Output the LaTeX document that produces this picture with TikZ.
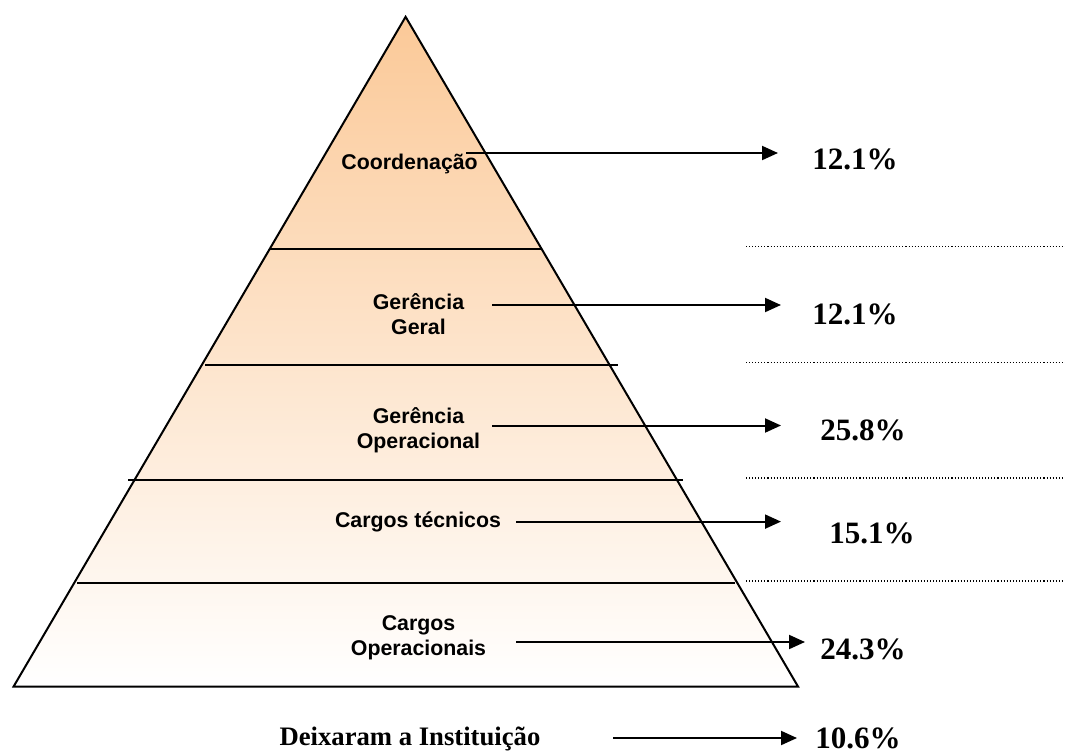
\documentclass[tikz,border=0pt]{standalone}
\usepackage{fontspec}
\setmainfont{Liberation Serif}
\newfontfamily\labelfont{Liberation Sans}
\usetikzlibrary{arrows.meta}
\definecolor{peach}{RGB}{251,201,152}
\begin{document}
\begin{tikzpicture}[x=0.75pt,y=-0.75pt,
  level/.style={font=\labelfont\bfseries\fontsize{16}{18.75}\selectfont, align=center, inner sep=0pt},
  pct/.style={font=\bfseries\fontsize{23.3}{26}\selectfont, anchor=base west, inner sep=0pt},
  outline/.style={line width=1.5pt, line join=miter},
  divider/.style={line width=1.7pt},
  guide/.style={line width=0.8pt, dash pattern=on 0.8pt off 1.5pt},
  pointer/.style={line width=1.5pt, -{Triangle[length=12pt,width=10.5pt]}}]
\useasboundingbox (0,0) rectangle (1065,754);

% pyramid with vertical gradient
\coordinate (apex) at (405.6,16.8);
\coordinate (bl) at (13.6,686.5);
\coordinate (br) at (798,686.5);
\shade[top color=peach, bottom color=white] (apex) -- (br) -- (bl) -- cycle;
\draw[outline] (apex) -- (br) -- (bl) -- cycle;

% level dividers
\draw[divider] (270,249) -- (541,249);
\draw[divider] (205,365) -- (618,365);
\draw[divider] (128,480) -- (683,480);
\draw[divider] (77,583) -- (735,583);

% dotted guides on the right
\foreach \yy in {246.6,362.5,478,581}
  \draw[guide] (746,\yy) -- (1065,\yy);

% level labels
\node[level] (coord) at (409.6,163.5) {Coordenação};
\node[level] (gger) at (418.5,314.4) {Gerência\\Geral};
\node[level] (gop) at (418.5,430) {Gerência\\Operacional};
\node[level] (tec) at (418,522) {Cargos técnicos};
\node[level] (ope) at (418.5,638) {Cargos\\Operacionais};
\node[font=\bfseries\fontsize{20}{24}\selectfont, inner sep=0pt] (saida) at (410,739) {Deixaram a Instituição};

% percentages
\node[pct] (p1) at (812,169) {12.1\%};
\node[pct] (p2) at (812,324.5) {12.1\%};
\node[pct] (p3) at (820,440) {25.8\%};
\node[pct] (p4) at (829,543) {15.1\%};
\node[pct] (p5) at (820,659) {24.3\%};
\node[pct] (p6) at (815,748) {10.6\%};

% arrow start and tip points
\coordinate (s1) at (466,153);   \coordinate (e1) at (778,153);
\coordinate (s2) at (492,305);   \coordinate (e2) at (781,305);
\coordinate (s3) at (492,425.5); \coordinate (e3) at (781,425.5);
\coordinate (s4) at (516,521.6); \coordinate (e4) at (781,521.6);
\coordinate (s5) at (516,642);   \coordinate (e5) at (805,642);
\coordinate (s6) at (613,738);   \coordinate (e6) at (797,738);

\foreach \i in {1,...,6}
  \draw[pointer] (s\i) -- (e\i);
\end{tikzpicture}
\end{document}
